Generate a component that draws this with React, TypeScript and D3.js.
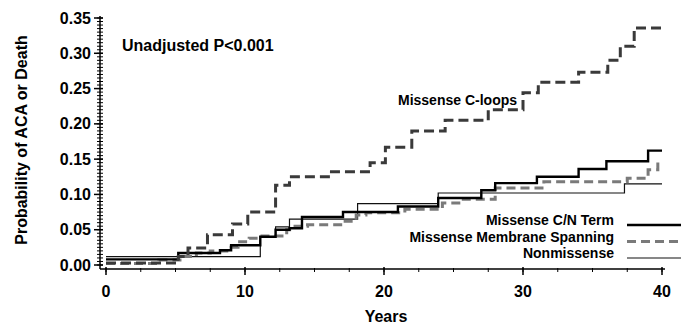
import * as d3 from "d3";
import React from "react";

// Kaplan-Meier style cumulative probabilities
const cLoopsYears = [0, 5.2, 5.9, 7.3, 9.1, 10.2, 12.2, 13.2, 16, 19, 20.1, 22, 24.4, 27.5, 30, 31.1, 34, 36.1, 37, 38, 40];
const cLoopsProb = [0.003, 0.012, 0.024, 0.043, 0.058, 0.075, 0.113, 0.125, 0.132, 0.145, 0.167, 0.19, 0.205, 0.22, 0.244, 0.259, 0.273, 0.29, 0.31, 0.336, 0.336];

const termYears = [0, 5.2, 8.2, 9, 11.1, 12.2, 13.2, 14.1, 17.05, 21, 23.9, 27, 28, 31, 34, 36, 39, 40];
const termProb = [0.008, 0.017, 0.021, 0.028, 0.04, 0.05, 0.052, 0.068, 0.075, 0.083, 0.095, 0.106, 0.116, 0.125, 0.136, 0.147, 0.162, 0.162];

const membYears = [0, 3.8, 5.5, 6.5, 7.5, 9, 9.5, 10.3, 11, 13, 13.6, 14.5, 17, 18, 18.7, 21.5, 24.2, 25.5, 28, 31.5, 37.5, 39, 39.7, 40];
const membProb = [0.002, 0.007, 0.012, 0.017, 0.02, 0.025, 0.033, 0.038, 0.041, 0.05, 0.055, 0.057, 0.062, 0.071, 0.074, 0.079, 0.088, 0.093, 0.109, 0.118, 0.123, 0.135, 0.146, 0.146];

const nonYears = [0, 11.1, 12.2, 13.2, 18.1, 23.9, 37.3, 40];
const nonProb = [0.012, 0.04, 0.054, 0.065, 0.087, 0.102, 0.115, 0.115];

const yearTicks = [0, 10, 20, 30, 40];
const yearMinor = d3.range(0, 40.01, 2.5);
const probTicks = [0, 0.05, 0.1, 0.15, 0.2, 0.25, 0.3, 0.35];
const probMinor = d3.range(0, 0.3501, 0.005);

const legendLabels = ["Missense C/N Term", "Missense Membrane Spanning", "Nonmissense"];

const FONT = "'Liberation Sans', Arial, sans-serif";

const App: React.FC = () => {
  const x = d3.scaleLinear().domain([0, 40]).range([106, 662]);
  const y = d3.scaleLinear().domain([0, 0.35]).range([265, 18]);
  const axisX = 100;
  const axisY = 269;

  const line = d3
    .line<[number, number]>()
    .x((d) => x(d[0]))
    .y((d) => y(d[1]))
    .curve(d3.curveStepAfter);

  const pts = (t: number[], p: number[]) => t.map((v, i) => [v, p[i]] as [number, number]);

  const series = [
    { d: pts(nonYears, nonProb), stroke: "#111", width: 1.2, dash: undefined },
    { d: pts(membYears, membProb), stroke: "#7a7a7a", width: 3, dash: "9,5" },
    { d: pts(termYears, termProb), stroke: "#000", width: 2.4, dash: undefined },
    { d: pts(cLoopsYears, cLoopsProb), stroke: "#3a3a3a", width: 3, dash: "10,5" },
  ];

  const legendStyles = [
    { stroke: "#000", width: 2.4, dash: undefined },
    { stroke: "#7a7a7a", width: 3, dash: "9,5" },
    { stroke: "#111", width: 1.2, dash: undefined },
  ];

  return (
    <svg width={683} height={325} style={{ position: "absolute", left: 0, top: 0, background: "#fff" }} fontFamily={FONT} fontWeight="bold">
      {/* axes */}
      <line x1={axisX} x2={axisX} y1={16} y2={axisY} stroke="#000" strokeWidth={1.5} />
      <line x1={axisX} x2={665} y1={axisY} y2={axisY} stroke="#000" strokeWidth={1.5} />

      {probMinor.map((v, i) => (
        <line key={"pm" + i} x1={axisX - 3} x2={axisX + 3} y1={y(v)} y2={y(v)} stroke="#000" strokeWidth={1} />
      ))}
      {probTicks.map((v) => (
        <g key={"pt" + v}>
          <line x1={axisX - 6} x2={axisX + 3} y1={y(v)} y2={y(v)} stroke="#000" strokeWidth={1.5} />
          <text x={91} y={y(v)} dy="0.35em" textAnchor="end" fontSize={16}>
            {v.toFixed(2)}
          </text>
        </g>
      ))}

      {yearMinor.map((v, i) => (
        <line key={"ym" + i} x1={x(v)} x2={x(v)} y1={axisY - 1} y2={axisY + 3} stroke="#000" strokeWidth={1} />
      ))}
      {yearTicks.map((v) => (
        <g key={"yt" + v}>
          <line x1={x(v)} x2={x(v)} y1={axisY - 2} y2={axisY + 6} stroke="#000" strokeWidth={1.5} />
          <text x={x(v)} y={297} textAnchor="middle" fontSize={16}>
            {v}
          </text>
        </g>
      ))}

      <text x={386} y={322} textAnchor="middle" fontSize={16}>
        Years
      </text>
      <text transform="translate(27,140) rotate(-90)" textAnchor="middle" fontSize={16}>
        Probability of ACA or Death
      </text>

      {/* curves */}
      {series.map((s, i) => (
        <path key={"s" + i} d={line(s.d) ?? ""} fill="none" stroke={s.stroke} strokeWidth={s.width} strokeDasharray={s.dash} />
      ))}

      {/* annotations */}
      <text x={122} y={51} fontSize={16}>
        Unadjusted P&lt;0.001
      </text>
      <text x={398} y={105} fontSize={14}>
        Missense C-loops
      </text>

      {/* legend */}
      {legendLabels.map((lab, i) => (
        <g key={lab}>
          <text x={614} y={225 + i * 16.5} textAnchor="end" fontSize={14}>
            {lab}
          </text>
          <line
            x1={627}
            x2={681}
            y1={225 + i * 16.5}
            y2={225 + i * 16.5}
            stroke={legendStyles[i].stroke}
            strokeWidth={legendStyles[i].width}
            strokeDasharray={legendStyles[i].dash}
          />
        </g>
      ))}
    </svg>
  );
};

export default App;
